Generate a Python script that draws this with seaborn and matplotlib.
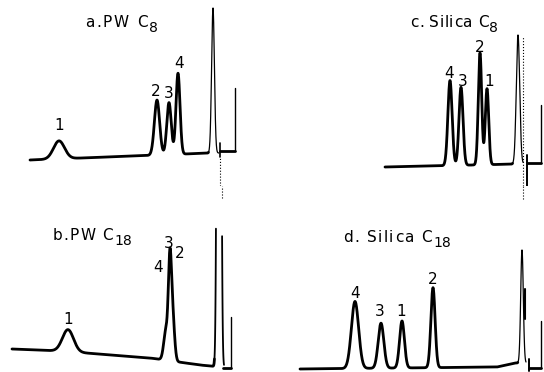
import numpy as np
import pandas as pd
import matplotlib
matplotlib.use("Agg")
import matplotlib.pyplot as plt
import seaborn as sns

sns.set_theme(style="white")
plt.rcParams['font.family'] = ['DejaVu Sans']
plt.rcParams['text.color'] = 'black'

# ---- data (retention position, height, width) ----
a_base_x = [30, 210]
a_base_y = [26, 33]
a_rt = [59, 157, 169, 178]
a_h = [18, 55, 52, 81]
a_w = [5.5, 2.6, 2.2, 2.0]
a_labels = ["1", "2", "3", "4"]
a_label_xy = [(59, 60), (156, 95), (169, 93), (179, 123)]
a_solvent = (213, 145, 1.4)

c_base_x = [113, 245]
c_base_y = [19, 22]
c_rt = [178, 189, 208, 215]
c_h = [85, 78, 112, 76]
c_w = [2.1, 2.0, 1.7, 1.7]
c_labels = ["4", "3", "2", "1"]
c_label_xy = [(177, 113), (191, 104), (208, 138), (217, 104)]
c_solvent = (246, 129, 1.7)

b_base_x = [12, 60, 150, 200, 230]
b_base_y = [23, 21, 14, 7, 4]
b_rt = [68, 166.0, 169.8, 172.3]
b_h = [22, 30, 82, 50]
b_w = [5.5, 2.2, 1.5, 2.0]
b_labels = ["1", "4", "3", "2"]
b_label_xy = [(68, 53), (158, 104), (169, 129), (180, 119)]
b_solvent = (219, 1500, 1.4)
b_pen_limit = 145

d_base_x = [28, 225, 243]
d_base_y = [3, 5, 9]
d_rt = [83, 109, 130, 161]
d_h = [67, 45, 47, 80]
d_w = [3.6, 2.8, 2.4, 2.1]
d_labels = ["4", "3", "1", "2"]
d_label_xy = [(83, 78), (108, 61), (129, 61), (161, 92)]
d_solvent = (250, 113, 1.3)

# title text, subscript, left x, baseline y, letter tracking (pt)
titles = {
    "a": ("a.PW C", "8", 85, 159, 1.2),
    "c": ("c. Silica C", "8", 138, 159, 0.3),
    "b": ("b.PW C", "18", 53, 132, 0.8),
    "d": ("d. Silica C", "18", 71, 130, 1.0),
}


def signal(x, base_x, base_y, rts, hs, ws, solvent):
    y = np.interp(x, base_x, base_y).astype(float)
    for r, h, w in zip(rts, hs, ws):
        y += h * np.exp(-(x - r) ** 2 / (2 * w ** 2))
    r, h, w = solvent
    y += h * np.exp(-(x - r) ** 2 / (2 * w ** 2))
    return y


def line(ax, xs, ys, lw, ls="-"):
    df = pd.DataFrame({"t": xs, "s": ys})
    sns.lineplot(data=df, x="t", y="s", ax=ax, color="black", lw=lw,
                 linestyle=ls, sort=False, estimator=None)


def spaced_title(ax, spec, fs=11):
    text, sub, x, y, track = spec
    prev = ax.text(x, y, text[0], ha="left", va="baseline", fontsize=fs,
                   color="black")
    pending = 0.0
    for ch in text[1:]:
        if ch == " ":
            pending += 0.318 * fs + track
            continue
        prev = ax.annotate(ch, xy=(1, 0), xycoords=prev,
                           xytext=(track + pending, 0),
                           textcoords="offset points",
                           ha="left", va="bottom", fontsize=fs, color="black")
        pending = 0.0
    ax.annotate(sub, xy=(1, 0), xycoords=prev, xytext=(0.8, -3.6),
                textcoords="offset points", ha="left", va="bottom",
                fontsize=fs - 1, color="black")


def panel(ax, base_x, base_y, rts, hs, ws, solvent, x0, x1, labels, label_xy,
          title, tail, solvent_lw=0.9, pen_limit=None):
    xs = np.linspace(x0, x1, 3000)
    ys = signal(xs, base_x, base_y, rts, hs, ws, solvent)
    cut = solvent[0] - 3.2 * solvent[2]
    m = xs <= cut
    line(ax, xs[m], ys[m], 2.0)
    rest = xs >= cut
    if pen_limit is None:
        line(ax, xs[rest], ys[rest], solvent_lw)
    else:
        left = rest & (xs <= solvent[0]) & (ys <= pen_limit)
        right = rest & (xs > solvent[0]) & (ys <= pen_limit)
        line(ax, xs[left], ys[left], solvent_lw)
        line(ax, xs[right], ys[right], solvent_lw)
    for seg in tail:
        line(ax, seg[0], seg[1], seg[2], seg[3] if len(seg) > 3 else "-")
    for lab, (lx, ly) in zip(labels, label_xy):
        ax.text(lx, ly, lab, ha="center", va="center", fontsize=11,
                color="black")
    ax.set_xlim(0, 272)
    ax.set_ylim(0, 186)
    ax.set_axis_off()
    spaced_title(ax, title)


fig = plt.figure(figsize=(5.44, 3.72), dpi=100)
ax_a = fig.add_axes([0.0, 0.5, 0.5, 0.5])
ax_c = fig.add_axes([0.5, 0.5, 0.5, 0.5])
ax_b = fig.add_axes([0.0, 0.0, 0.5, 0.5])
ax_d = fig.add_axes([0.5, 0.0, 0.5, 0.5])

panel(ax_a, a_base_x, a_base_y, a_rt, a_h, a_w, a_solvent, 30, 219,
      a_labels, a_label_xy, titles["a"],
      [([220, 220], [29, 43], 1.2), ([220, 220], [0, 29], 0.8, ":"),
       ([220, 235], [35, 35], 2.0), ([235, 235], [35, 98], 1.0)])

panel(ax_c, c_base_x, c_base_y, c_rt, c_h, c_w, c_solvent, 113, 251,
      c_labels, c_label_xy, titles["c"],
      [([250.5, 250.5], [0, 150], 0.8, ":"), ([255, 255], [0, 31], 1.4),
       ([255, 269], [23, 23], 2.0), ([269, 269], [23, 81], 1.0)])

panel(ax_b, b_base_x, b_base_y, b_rt, b_h, b_w, b_solvent, 12, 224,
      b_labels, b_label_xy, titles["b"],
      [([223, 231], [4, 4], 2.0), ([231, 231], [4, 55], 1.0),
       ([222, 222], [174, 186], 0.8, ":")],
      solvent_lw=1.3, pen_limit=b_pen_limit)

panel(ax_d, d_base_x, d_base_y, d_rt, d_h, d_w, d_solvent, 28, 254,
      d_labels, d_label_xy, titles["d"],
      [([251, 251], [173, 186], 0.8, ":"), ([253, 253], [53, 83], 1.5),
       ([257, 257], [1, 13], 1.4),
       ([257, 269], [4, 4], 2.0), ([269, 269], [4, 51], 1.0)])

fig.savefig("out.png", dpi=100)
